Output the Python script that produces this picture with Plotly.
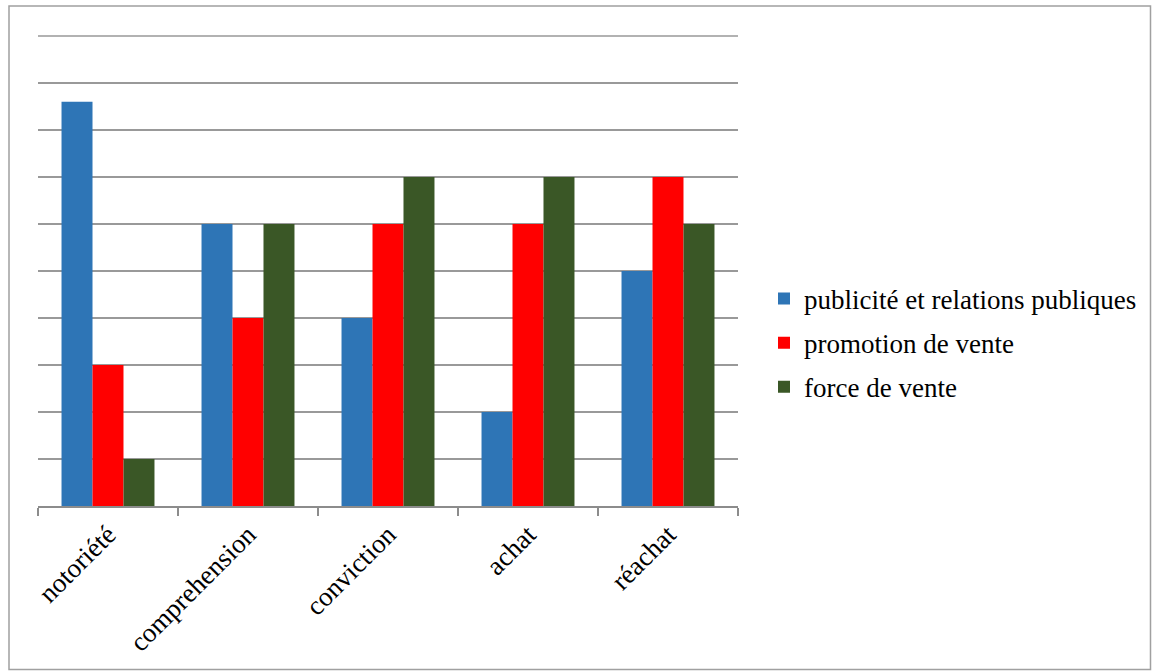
import plotly.graph_objects as go

categories = ["notoriété", "comprehension", "conviction", "achat", "réachat"]
series_names = ["publicité et relations publiques", "promotion de vente", "force de vente"]
pub = [8.6, 6, 4, 2, 5]
promo = [3, 4, 6, 6, 7]
force = [1, 6, 7, 7, 6]
colors = ["#2E75B6", "#FF0000", "#3A5726"]

fig = go.Figure()
for i, (name, vals) in enumerate(zip(series_names, [pub, promo, force])):
    fig.add_trace(go.Bar(x=categories, y=vals, name=name, marker_color=colors[i],
                         marker_line_width=0, legendgroup=str(i)))

W, H = 1152, 671
L, R, T, B = 38, 414, 36, 165
pw, ph = W - L - R, H - T - B

def px_x(x):
    return (x - L) / pw

def px_y(y):
    return (H - B - y) / ph

SERIF = "Liberation Serif"

fig.update_layout(
    width=W, height=H,
    margin=dict(l=L, r=R, t=T, b=B, autoexpand=False),
    paper_bgcolor="white", plot_bgcolor="white",
    barmode="group", bargap=0.336, bargroupgap=0,
    font=dict(family=SERIF, size=27, color="black"),
    showlegend=True,
    legend=dict(x=px_x(764), y=px_y(343), xanchor="left", yanchor="middle",
                font=dict(family=SERIF, size=27), tracegroupgap=6, bgcolor="rgba(0,0,0,0)"),
    xaxis=dict(showgrid=False, showline=True, linecolor="#8c8c8c", linewidth=2,
               ticks="outside", tickson="boundaries", ticklen=8, tickcolor="#8c8c8c",
               tickwidth=1.5, tickangle=-45, tickfont=dict(family=SERIF, size=27),
               automargin=False),
    yaxis=dict(range=[0, 10], dtick=1, showgrid=True, gridcolor="#999999", gridwidth=1.5,
               showticklabels=False, zeroline=False, showline=False, automargin=False),
    shapes=[dict(type="rect", xref="paper", yref="paper",
                 x0=px_x(9), x1=px_x(1150.5), y0=px_y(669.5), y1=px_y(6),
                 line=dict(color="#a0a0a0", width=1.5), fillcolor="rgba(0,0,0,0)", layer="below"),
            dict(type="line", xref="paper", yref="paper", x0=0, x1=1, y0=1, y1=1,
                 line=dict(color="#999999", width=1.5), layer="below")],
)

fig.write_html("out.html")
